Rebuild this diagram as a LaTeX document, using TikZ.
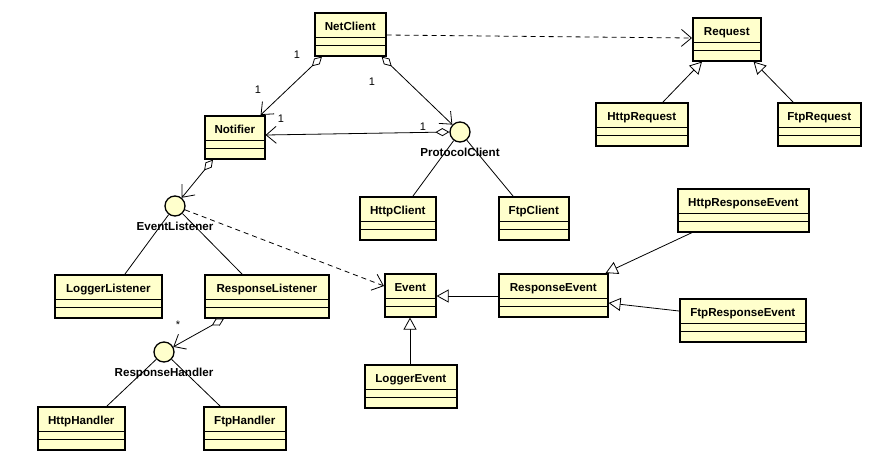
\documentclass[tikz,border=0pt]{standalone}
\usepackage{fontspec}
\setmainfont{Liberation Sans}
\usetikzlibrary{arrows.meta,calc}
\definecolor{clsfill}{RGB}{255,255,204}
\begin{document}
\begin{tikzpicture}[x=1pt,y=-1pt,
  cls/.style={draw, line width=1.6pt, fill=clsfill, anchor=north west,
    inner xsep=0pt, inner ysep=0pt, text height=17.5pt, text depth=25.5pt,
    font=\fontsize{11.6}{13}\selectfont\bfseries,
    path picture={
      \draw[line width=0.9pt] ([yshift=-25pt]path picture bounding box.north west) -- ([yshift=-25pt]path picture bounding box.north east);
      \draw[line width=0.9pt] ([yshift=-33pt]path picture bounding box.north west) -- ([yshift=-33pt]path picture bounding box.north east);}},
  iface/.style={circle, draw, line width=1.3pt, fill=clsfill, minimum size=20pt, inner sep=0pt},
  lbl/.style={font=\fontsize{11.6}{13}\selectfont\bfseries, inner sep=0pt},
  mult/.style={font=\fontsize{11}{13}\selectfont, inner sep=0pt},
  conn/.style={line width=0.8pt},
  assoc/.style={conn, -{Straight Barb[length=10pt,width=17pt,line width=0.8pt]}},
  aggr/.style={conn, {Diamond[fill=white,length=14pt,width=8pt,line width=0.8pt]}-{Straight Barb[length=10pt,width=17pt,line width=0.8pt]}},
  gen/.style={conn, -{Triangle[fill=white,length=12pt,width=13pt,line width=0.8pt]}},
  dep/.style={conn, dash pattern=on 5pt off 4pt, -{Straight Barb[length=10pt,width=17pt,line width=0.8pt]}}
]
\useasboundingbox[fill=white] (0,0) rectangle (894,464);

% classes
\node[cls, minimum width=71pt]  (netclient)         at (314,12)  {NetClient};
\node[cls, minimum width=68pt]  (request)           at (692,17)  {Request};
\node[cls, minimum width=92pt]  (httprequest)       at (595,102) {HttpRequest};
\node[cls, minimum width=83pt]  (ftprequest)        at (777,102) {FtpRequest};
\node[cls, minimum width=60pt]  (notifier)          at (204,115) {Notifier};
\node[cls, minimum width=76pt]  (httpclient)        at (359,196) {HttpClient};
\node[cls, minimum width=70pt]  (ftpclient)         at (498,196) {FtpClient};
\node[cls, minimum width=131pt] (httpresponseevent) at (677,188) {HttpResponseEvent};
\node[cls, minimum width=107pt] (loggerlistener)    at (54,274)  {LoggerListener};
\node[cls, minimum width=124pt] (responselistener)  at (204,274) {ResponseListener};
\node[cls, minimum width=51pt]  (event)             at (384,273) {Event};
\node[cls, minimum width=109pt] (responseevent)     at (498,273) {ResponseEvent};
\node[cls, minimum width=126pt] (ftpresponseevent)  at (679,298) {FtpResponseEvent};
\node[cls, minimum width=92pt]  (loggerevent)       at (364,364) {LoggerEvent};
\node[cls, minimum width=87pt]  (httphandler)       at (37,406)  {HttpHandler};
\node[cls, minimum width=82pt]  (ftphandler)        at (203,406) {FtpHandler};

% interfaces
\node[iface] (protocolclient)  at (460,132) {};
\node[iface] (eventlistener)   at (175,206) {};
\node[iface] (responsehandler) at (164,352) {};

% connectors
\draw[aggr] ($(netclient.south west)+(8,0)$) -- ($(notifier.north east)+(-5,0)$);
\draw[aggr] ($(netclient.south east)+(-5,0)$) -- (protocolclient);
\draw[aggr] (protocolclient.west) -- ($(notifier.north east)+(0,20)$);
\draw[aggr] ($(notifier.south west)+(9,0)$) -- (eventlistener);
\draw[aggr] ($(responselistener.south west)+(20,0)$) -- (responsehandler);

\draw[conn] (eventlistener) -- ($(loggerlistener.north west)+(71,0)$);
\draw[conn] (eventlistener) -- ($(responselistener.north west)+(38,0)$);
\draw[conn] (responsehandler) -- ($(httphandler.north west)+(70,0)$);
\draw[conn] (responsehandler) -- ($(ftphandler.north west)+(17,0)$);
\draw[conn] (protocolclient) -- ($(httpclient.north west)+(54,0)$);
\draw[conn] (protocolclient) -- ($(ftpclient.north west)+(15,0)$);

\draw[dep] ($(netclient.north east)+(0,23)$) -- ($(request.north west)+(0,21)$);
\draw[dep] (eventlistener) -- ($(event.north west)+(0,13)$);

\draw[gen] ($(httprequest.north west)+(68,0)$) -- ($(request.south west)+(10,0)$);
\draw[gen] ($(ftprequest.north west)+(16,0)$) -- ($(request.south east)+(-8,0)$);
\draw[gen] ($(responseevent.north west)+(0,23)$) -- ($(event.north east)+(0,23)$);
\draw[gen] ($(loggerevent.north west)+(46,0)$) -- ($(event.south west)+(26,0)$);
\draw[gen] ($(httpresponseevent.south west)+(15,0)$) -- ($(responseevent.north east)+(-3,0)$);
\draw[gen] ($(ftpresponseevent.north west)+(0,13)$) -- ($(responseevent.north east)+(0,30)$);

% interface labels
\node[lbl] (protocolclientlbl)  at (460,152) {ProtocolClient};
\node[lbl] (eventlistenerlbl)   at (175,226) {EventListener};
\node[lbl] (responsehandlerlbl) at (164,373) {ResponseHandler};

% multiplicities
\node[mult] (m1) at (297,55)  {1};
\node[mult] (m2) at (258,90)  {1};
\node[mult] (m3) at (372,82)  {1};
\node[mult] (m4) at (281,119) {1};
\node[mult] (m5) at (423,127) {1};
\node[mult] (m6) at (178,325) {*};
\end{tikzpicture}
\end{document}
